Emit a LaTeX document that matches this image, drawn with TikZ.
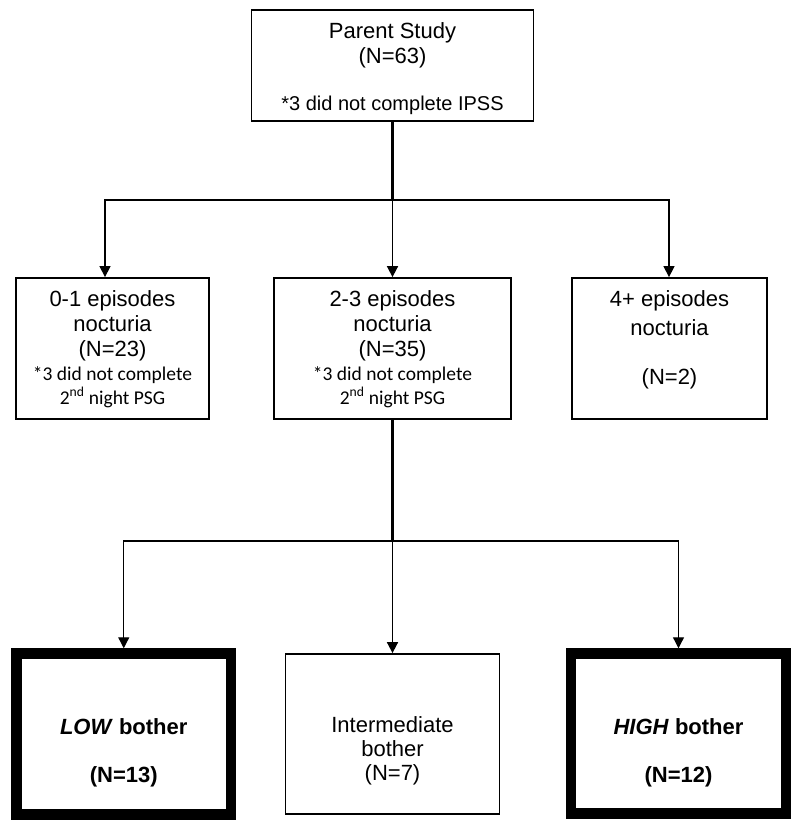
\documentclass[tikz,border=0pt]{standalone}
\usepackage{fontspec}
\setmainfont{Liberation Sans}
\newfontfamily\calib{Carlito}
\usetikzlibrary{arrows.meta}
\begin{document}
\begin{tikzpicture}[x=1pt,y=-1pt,
  box/.style={draw, line width=1.8pt, inner sep=0pt},
  thickbox/.style={draw, line width=10.5pt, inner sep=0pt},
  trunk/.style={line width=2.2pt},
  arr/.style={line width=1.3pt, -{Triangle[length=11pt,width=11pt]}},
  midarr/.style={line width=1.7pt, -{Triangle[length=11pt,width=11pt]}},
  txt/.style={anchor=base, inner sep=0pt, font=\fontsize{22}{25}\selectfont},
  note/.style={anchor=base, inner sep=0pt, font=\fontsize{20}{24}\selectfont},
  cnote/.style={anchor=base, inner sep=0pt, font=\calib\fontsize{19.5}{24}\selectfont},
  btxt/.style={anchor=base, inner sep=0pt, font=\fontsize{22}{25}\selectfont\bfseries}]
\useasboundingbox (0,0) rectangle (800,827);

% boxes
\node[box, minimum width=282pt, minimum height=111pt] (parent) at (392.5,65.5) {};
\node[box, minimum width=193pt, minimum height=141pt] (b1) at (112.5,348.5) {};
\node[box, minimum width=237pt, minimum height=141pt] (b2) at (392.5,348.5) {};
\node[box, minimum width=195pt, minimum height=141pt] (b3) at (669.5,348.5) {};
\node[thickbox, minimum width=214.5pt, minimum height=161pt] (low) at (123.75,734) {};
\node[box, minimum width=214pt, minimum height=160pt] (mid) at (392.5,734) {};
\node[thickbox, minimum width=215pt, minimum height=160pt] (high) at (678.5,733.5) {};

% texts
\node[txt] (pt1) at (392.5,38) {Parent Study};
\node[txt] (pt2) at (392.5,63) {(N=63)};
\node[note] (pt3) at (392.5,110) {*3 did not complete IPSS};

\node[txt] (b1t1) at (112.5,306) {0-1 episodes};
\node[txt] (b1t2) at (112.5,331) {nocturia};
\node[txt] (b1t3) at (112.5,356) {(N=23)};
\node[cnote] (b1t4) at (112.5,380) {*3 did not complete};
\node[cnote] (b1t5) at (112.5,404) {2\textsuperscript{nd} night PSG};

\node[txt] (b2t1) at (392.5,306) {2-3 episodes};
\node[txt] (b2t2) at (392.5,331) {nocturia};
\node[txt] (b2t3) at (392.5,356) {(N=35)};
\node[cnote] (b2t4) at (392.5,380) {*3 did not complete};
\node[cnote] (b2t5) at (392.5,404) {2\textsuperscript{nd} night PSG};

\node[txt] (b3t1) at (669.5,306) {4+ episodes};
\node[txt] (b3t2) at (669.5,335) {nocturia};
\node[txt] (b3t3) at (669.5,384) {(N=2)};

\node[btxt] (lowt1) at (123.75,734) {\textit{LOW} bother};
\node[btxt] (lowt2) at (123.75,782) {(N=13)};

\node[txt] (midt1) at (392.5,732) {Intermediate};
\node[txt] (midt2) at (392.5,756) {bother};
\node[txt] (midt3) at (392.5,780) {(N=7)};

\node[btxt] (hight1) at (678.5,734) {\textit{HIGH} bother};
\node[btxt] (hight2) at (678.5,782) {(N=12)};

% connectors, upper level
\coordinate (j1) at (392.5,200);
\coordinate (l1) at (105,200);
\coordinate (r1) at (669,200);
\draw[trunk] (parent.south) -- (j1);
\draw[arr] (j1) -- (l1) -- (b1.north -| l1);
\draw[arr] (j1) -- (r1) -- (b3.north -| r1);
\draw[midarr] (j1) -- (b2.north);

% connectors, lower level
\coordinate (j2) at (392.5,541);
\coordinate (l2) at (123.75,541);
\coordinate (r2) at (678.5,541);
\draw[trunk] (b2.south) -- (j2);
\draw[arr] (j2) -- (l2) -- (low.north);
\draw[arr] (j2) -- (r2) -- (high.north);
\draw[midarr] (j2) -- (mid.north);
\end{tikzpicture}
\end{document}
